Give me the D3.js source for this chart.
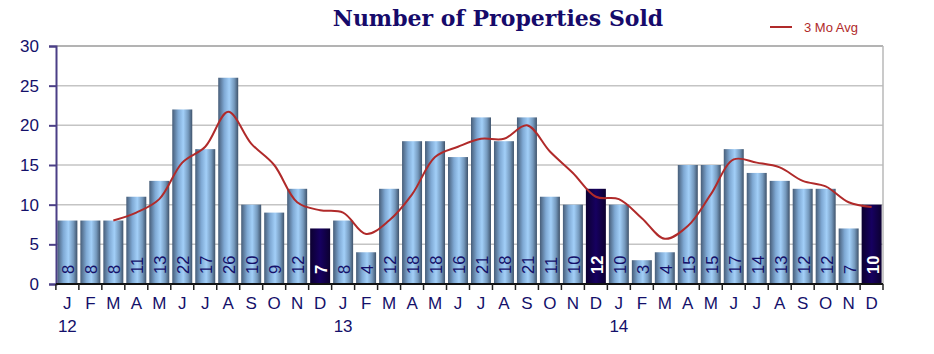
<!DOCTYPE html>
<html>
<head>
<meta charset="utf-8">
<script src="https://cdn.jsdelivr.net/npm/d3@7"></script>
<style>
  body { margin: 0; background: #fff; }
  svg { display: block; font-family: "Liberation Sans", Arial, sans-serif; }
</style>
</head>
<body>
<div id="chart"></div>
<script>
// DATA
const months = ["J","F","M","A","M","J","J","A","S","O","N","D",
                "J","F","M","A","M","J","J","A","S","O","N","D",
                "J","F","M","A","M","J","J","A","S","O","N","D"];
const years = ["12", "13", "14"];
const sold = [8, 8, 8, 11, 13, 22, 17, 26, 10, 9, 12, 7,
              8, 4, 12, 18, 18, 16, 21, 18, 21, 11, 10, 12,
              10, 3, 4, 15, 15, 17, 14, 13, 12, 12, 7, 10];
// 3 month average (starts at March 2012)
const avg3 = [null, null, 8, 9, 10.7, 15.3, 17.3, 21.7, 17.7, 15, 10.3, 9.3,
              9, 6.3, 8, 11.3, 16, 17.3, 18.3, 18.3, 20, 16.7, 14, 11,
              10.7, 8.3, 5.7, 7.3, 11.3, 15.7, 15.3, 14.7, 13, 12.3, 10.3, 9.7];
const highlighted = [11, 23, 35];
const yTicks = [0, 5, 10, 15, 20, 25, 30];

const W = 934, H = 354;
const margin = { top: 46, right: 51, bottom: 70, left: 56 };
const x0 = margin.left, x1 = W - margin.right;
const y0 = H - margin.bottom, y1 = margin.top;

const svg = d3.select("#chart").append("svg")
    .attr("width", W).attr("height", H);

// gradients
const defs = svg.append("defs");
const gBlue = defs.append("linearGradient").attr("id", "gBlue")
    .attr("x1", "0").attr("x2", "1").attr("y1", "0").attr("y2", "0");
gBlue.append("stop").attr("offset", "0%").attr("stop-color", "#475d78");
gBlue.append("stop").attr("offset", "30%").attr("stop-color", "#7fa9d4");
gBlue.append("stop").attr("offset", "55%").attr("stop-color", "#a2cff8");
gBlue.append("stop").attr("offset", "80%").attr("stop-color", "#7599bd");
gBlue.append("stop").attr("offset", "100%").attr("stop-color", "#3f536b");
const gDark = defs.append("linearGradient").attr("id", "gDark")
    .attr("x1", "0").attr("x2", "1").attr("y1", "0").attr("y2", "0");
gDark.append("stop").attr("offset", "0%").attr("stop-color", "#0c0030");
gDark.append("stop").attr("offset", "50%").attr("stop-color", "#160060");
gDark.append("stop").attr("offset", "100%").attr("stop-color", "#0c0030");

// SCALES
const x = d3.scaleBand()
    .domain(d3.range(months.length))
    .range([x0, x1])
    .paddingInner(0.13).paddingOuter(0.06);

const y = d3.scaleLinear().domain([0, 30]).range([y0, y1]);

// gridlines
svg.append("g").selectAll("line").data(yTicks.slice(1)).enter().append("line")
    .attr("x1", x0).attr("x2", x1)
    .attr("y1", d => y(d)).attr("y2", d => y(d))
    .attr("stroke", d => d === 30 ? "#9a9a9a" : "#c4c4c4")
    .attr("stroke-width", 1.5);

// right border
svg.append("line")
    .attr("x1", x1).attr("x2", x1).attr("y1", y(30)).attr("y2", y0)
    .attr("stroke", "#b8b8b8").attr("stroke-width", 1.5);

// BARS
svg.append("g").selectAll("rect").data(sold).enter().append("rect")
    .attr("x", (d, i) => x(i))
    .attr("width", x.bandwidth())
    .attr("y", d => y(d))
    .attr("height", d => y0 - y(d))
    .attr("fill", (d, i) => highlighted.includes(i) ? "url(#gDark)" : "url(#gBlue)");

// bar labels
svg.append("g").selectAll("text").data(sold).enter().append("text")
    .attr("transform", (d, i) => `translate(${x(i) + x.bandwidth() / 2 + 7},${y0 - 10}) rotate(-90)`)
    .attr("text-anchor", "start")
    .attr("font-size", 16.5)
    .attr("font-weight", (d, i) => highlighted.includes(i) ? "bold" : "normal")
    .attr("fill", (d, i) => highlighted.includes(i) ? "#ffffff" : "#14106a")
    .text(d => d);

// 3 month average line
const line = d3.line()
    .defined(d => d !== null)
    .x((d, i) => x(i) + x.bandwidth() / 2)
    .y(d => y(d))
    .curve(d3.curveCatmullRom.alpha(0.5));
svg.append("path")
    .attr("d", line(avg3))
    .attr("fill", "none")
    .attr("stroke", "#b02a2a")
    .attr("stroke-width", 2);

// AXES
const yAxis = svg.append("g")
    .attr("transform", `translate(${x0},0)`)
    .call(d3.axisLeft(y).tickValues(yTicks).tickSize(7).tickPadding(10));
yAxis.select(".domain").attr("stroke", "#4b3f86").attr("stroke-width", 2);
yAxis.selectAll(".tick line").attr("stroke", "#4b3f86").attr("stroke-width", 2);
yAxis.selectAll(".tick text")
    .attr("font-size", 17).attr("fill", "#14106a")
    .attr("font-family", "'Liberation Sans', Arial, sans-serif");

// x axis baseline with ticks at band boundaries
svg.append("line")
    .attr("x1", x0).attr("x2", x1).attr("y1", y0).attr("y2", y0)
    .attr("stroke", "#111").attr("stroke-width", 2);
const step = x.step();
const bounds = d3.range(months.length + 1).map(i => i === months.length ? x1 : x(i) - step * x.paddingInner() / 2);
svg.append("g").selectAll("line").data(bounds).enter().append("line")
    .attr("x1", d => d).attr("x2", d => d)
    .attr("y1", y0).attr("y2", y0 + 6)
    .attr("stroke", "#222").attr("stroke-width", 1.5);

svg.append("g").selectAll("text").data(months).enter().append("text")
    .attr("x", (d, i) => x(i) + x.bandwidth() / 2)
    .attr("y", y0 + 25)
    .attr("text-anchor", "middle")
    .attr("font-size", 17)
    .attr("fill", "#14106a")
    .text(d => d);

svg.append("g").selectAll("text").data(years).enter().append("text")
    .attr("x", (d, i) => x(i * 12) + x.bandwidth() / 2)
    .attr("y", y0 + 48)
    .attr("text-anchor", "middle")
    .attr("font-size", 17)
    .attr("fill", "#14106a")
    .text(d => d);

// TITLE
svg.append("text")
    .attr("x", 498).attr("y", 26)
    .attr("text-anchor", "middle")
    .attr("font-family", "'DejaVu Serif', Georgia, serif")
    .attr("font-weight", "bold")
    .attr("font-size", 22)
    .attr("fill", "#160a6a")
    .text("Number of Properties Sold");

// LEGEND
svg.append("line")
    .attr("x1", 770).attr("x2", 792).attr("y1", 27).attr("y2", 27)
    .attr("stroke", "#b02a2a").attr("stroke-width", 2);
svg.append("text")
    .attr("x", 804).attr("y", 32)
    .attr("font-size", 13)
    .attr("fill", "#b02a2a")
    .text("3 Mo Avg");
</script>
</body>
</html>
